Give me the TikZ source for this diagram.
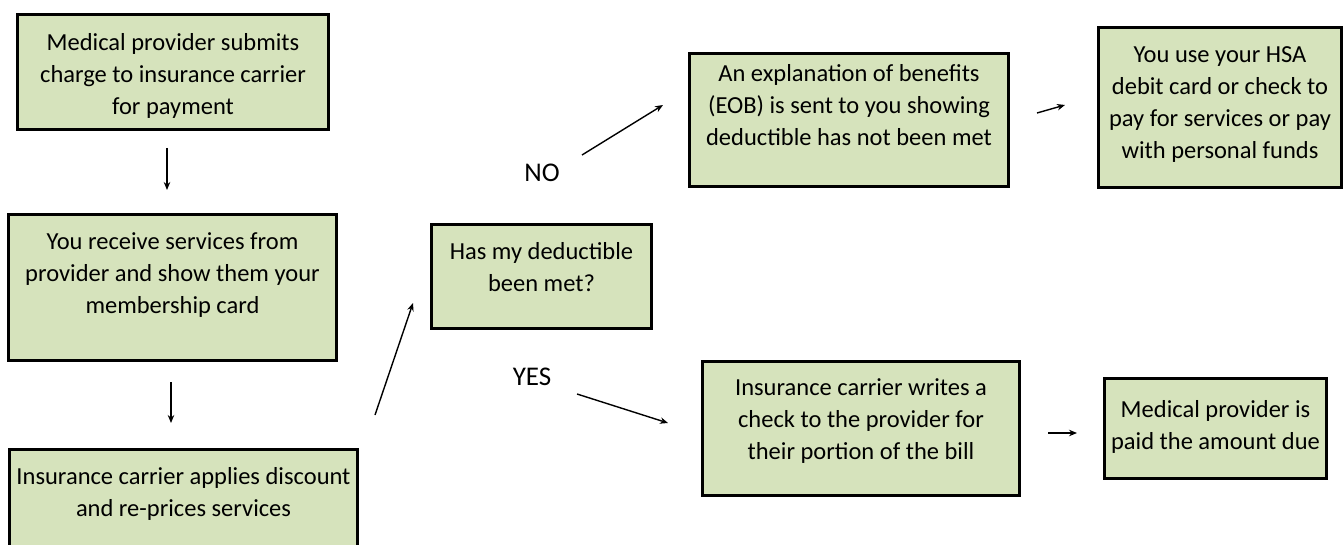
\documentclass[tikz,border=0pt]{standalone}
\usepackage{fontspec}
\setmainfont{Carlito}
\usetikzlibrary{arrows.meta}
\definecolor{boxfill}{HTML}{D6E3BC}
\tikzset{
  fbox/.style={draw=black, line width=3pt, fill=boxfill, inner sep=0pt, anchor=north west},
  conn/.style={line width=1.4pt, -{Stealth[length=8pt,width=6.5pt]}},
  lbl/.style={inner sep=0pt, font=\fontsize{27}{32}\selectfont}
}
% name, left, top, right, bottom, first baseline, text
\newcommand\fbx[7]{%
  \node[fbox] (#1) at (#2,#3) {\parbox[c][\dimexpr#5pt-#3pt\relax][t]{\dimexpr#4pt-#2pt\relax}{\fontsize{24.5}{32}\selectfont\centering\rule{0pt}{#6pt}#7\par}};}
\begin{document}
\begin{tikzpicture}[x=1pt,y=-1pt]
\useasboundingbox (0,0) rectangle (1343,545);
\clip (0,0) rectangle (1343,545);
\fbx{submit}{16}{13}{327}{128}{36}{Medical provider submits\\charge to insurance carrier\\for payment}
\fbx{receive}{7}{213}{335}{359}{35}{You receive services from\\provider and show them your\\membership card}
\fbx{reprice}{8}{448}{356}{575}{35}{Insurance carrier applies discount\\and re-prices services}
\fbx{question}{430}{223}{650}{327}{35}{Has my deductible\\been met?}
\fbx{eob}{688}{52}{1007}{185}{28}{An explanation of benefits\\(EOB) is sent to you showing\\deductible has not been met}
\fbx{hsa}{1097}{26}{1340}{186}{35}{You use your HSA\\debit card or check to\\pay for services or pay\\with personal funds}
\fbx{check}{701}{360}{1018}{494}{34}{Insurance carrier writes a\\check to the provider for\\their portion of the bill}
\fbx{paid}{1103}{377}{1325}{477}{39}{Medical provider is\\paid the amount due}

\node[lbl] (no) at (542,173) {NO};
\node[lbl] (yes) at (532,377) {YES};

\coordinate (a1s) at (167,148); \coordinate (a1e) at (167,190);
\coordinate (a2s) at (171,382); \coordinate (a2e) at (171,423);
\coordinate (a3s) at (375,415); \coordinate (a3e) at (413,303);
\coordinate (a4s) at (582,155); \coordinate (a4e) at (663,105);
\coordinate (a5s) at (577,394); \coordinate (a5e) at (668,423);
\coordinate (a6s) at (1037,113); \coordinate (a6e) at (1065,105);
\coordinate (a7s) at (1048,433); \coordinate (a7e) at (1077,433);

\draw[conn] (a1s) -- (a1e);
\draw[conn] (a2s) -- (a2e);
\draw[conn] (a3s) -- (a3e);
\draw[conn] (a4s) -- (a4e);
\draw[conn] (a5s) -- (a5e);
\draw[conn] (a6s) -- (a6e);
\draw[conn] (a7s) -- (a7e);
\end{tikzpicture}
\end{document}
